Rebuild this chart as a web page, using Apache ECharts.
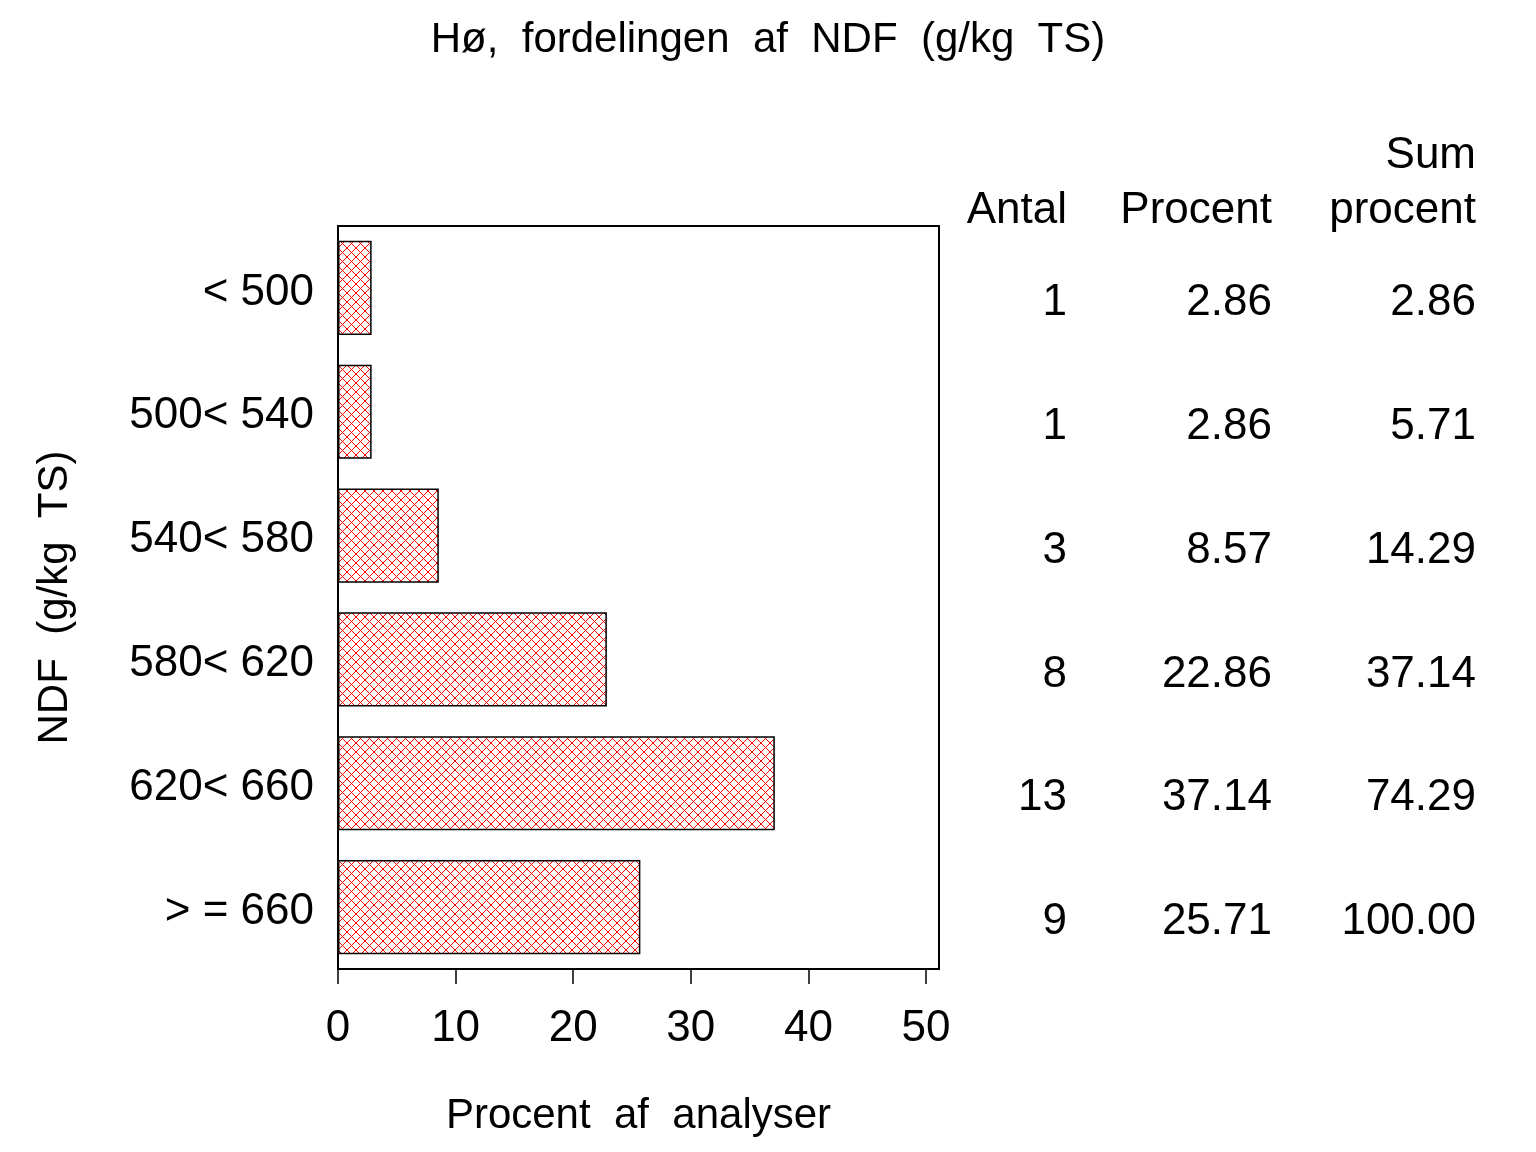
<!DOCTYPE html>
<html>
<head>
<meta charset="utf-8">
<script src="https://cdn.jsdelivr.net/npm/echarts@6/dist/echarts.min.js"></script>
<style>
html,body{margin:0;padding:0;background:#fff;}
#c{width:1536px;height:1152px;}
</style>
</head>
<body>
<div id="c"></div>
<script>
const categories = ['< 500', '500< 540', '540< 580', '580< 620', '620< 660', '> = 660'];
const procent = [2.86, 2.86, 8.57, 22.86, 37.14, 25.71];
const antal = [1, 1, 3, 8, 13, 9];
const sumProcent = ['2.86', '5.71', '14.29', '37.14', '74.29', '100.00'];
const procentText = ['2.86', '2.86', '8.57', '22.86', '37.14', '25.71'];
const xTicks = [0, 10, 20, 30, 40, 50];

const FONT = '"Liberation Sans", Arial, Helvetica, sans-serif';
const FS = 44;

// crosshatch pattern
const tile = document.createElement('canvas');
tile.width = 9; tile.height = 9;
const tctx = tile.getContext('2d');
tctx.fillStyle = '#ffffff';
tctx.fillRect(0, 0, 9, 9);
tctx.fillStyle = '#ff0000';
for (let i = 0; i < 9; i++) {
  tctx.fillRect(i, i, 1, 1);
  tctx.fillRect(i, (9 - i) % 9, 1, 1);
}

const chart = echarts.init(document.getElementById('c'), null, {renderer: 'canvas'});

const option = {
  backgroundColor: '#ffffff',
  animation: false,
  title: {
    text: 'Hø,  fordelingen  af  NDF  (g/kg  TS)',
    left: 'center',
    top: 14,
    textStyle: {fontFamily: FONT, fontWeight: 'normal', fontSize: 42, color: '#000'}
  },
  grid: {left: 338, right: 597, top: 226, bottom: 183, show: true, borderColor: '#000', borderWidth: 2, containLabel: false},
  xAxis: {
    type: 'value',
    min: 0,
    max: 51.1,
    interval: 10,
    name: 'Procent  af  analyser',
    nameLocation: 'middle',
    nameGap: 126,
    nameTextStyle: {fontFamily: FONT, fontSize: 42, color: '#000'},
    axisLine: {show: true, lineStyle: {color: '#000', width: 2}},
    axisTick: {show: true, length: 15, lineStyle: {color: '#000', width: 1.5}, customValues: xTicks},
    axisLabel: {fontFamily: FONT, fontSize: FS, color: '#000', margin: 38, customValues: xTicks},
    splitLine: {show: false}
  },
  yAxis: [{
    type: 'category',
    data: categories,
    inverse: true,
    name: 'NDF  (g/kg  TS)',
    nameLocation: 'middle',
    nameGap: 262,
    nameRotate: 90,
    nameTextStyle: {fontFamily: FONT, fontSize: 42, color: '#000'},
    axisLine: {show: false},
    axisTick: {show: false},
    axisLabel: {
      margin: 24,
      formatter: function (v) { return '{v|' + v + '}'; },
      rich: {v: {fontFamily: FONT, fontSize: FS, color: '#000', padding: [9, 0, 0, 0]}}
    },
    splitLine: {show: false}
  }, {
    type: 'category',
    data: categories,
    inverse: true,
    position: 'right',
    axisLine: {show: false},
    axisTick: {show: false},
    axisLabel: {
      margin: 0,
      padding: [30, 0, 0, 0],
      formatter: function (v, i) {
        return '{a|' + antal[i] + '}{b|' + procentText[i] + '}{c|' + sumProcent[i] + '}';
      },
      rich: {
        a: {width: 128, align: 'right', fontFamily: FONT, fontSize: FS, color: '#000'},
        b: {width: 205, align: 'right', fontFamily: FONT, fontSize: FS, color: '#000'},
        c: {width: 204, align: 'right', fontFamily: FONT, fontSize: FS, color: '#000'}
      }
    }
  }],
  graphic: [
    {type: 'text', right: 1536 - 1067, top: 189, style: {text: 'Antal', font: FS + 'px ' + FONT, fill: '#000', textAlign: 'right'}},
    {type: 'text', right: 1536 - 1272, top: 189, style: {text: 'Procent', font: FS + 'px ' + FONT, fill: '#000', textAlign: 'right'}},
    {type: 'text', right: 1536 - 1476, top: 134, style: {text: 'Sum', font: FS + 'px ' + FONT, fill: '#000', textAlign: 'right'}},
    {type: 'text', right: 1536 - 1476, top: 189, style: {text: 'procent', font: FS + 'px ' + FONT, fill: '#000', textAlign: 'right'}}
  ],
  series: [{
    type: 'bar',
    data: procent,
    barCategoryGap: '24%',
    itemStyle: {
      color: {image: tile, repeat: 'repeat'},
      borderColor: '#000',
      borderWidth: 1.5
    }
  }]
};
chart.setOption(option);
</script>
</body>
</html>
